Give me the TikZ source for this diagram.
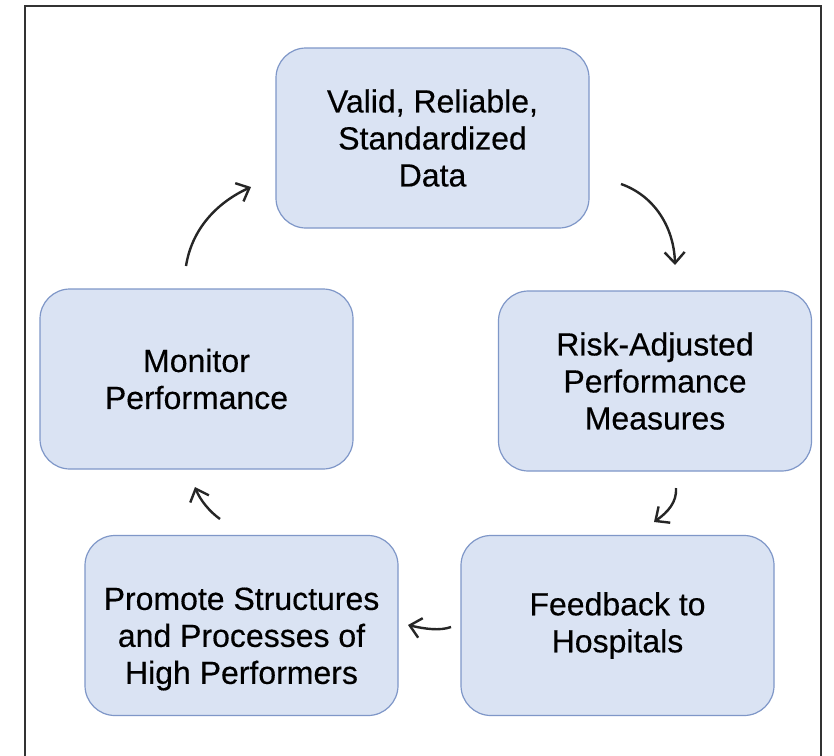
\documentclass[tikz,border=0pt]{standalone}
\usepackage{fontspec}
\setmainfont{Liberation Sans}[FakeBold=0.4]
\usetikzlibrary{arrows.meta}
\definecolor{boxfill}{HTML}{DAE3F3}
\definecolor{boxline}{HTML}{7F97C8}
\definecolor{framegray}{HTML}{333333}
\tikzset{
  stagebox/.style={draw=boxline, fill=boxfill, line width=1.2pt,
    rounded corners=30pt, minimum width=313pt, minimum height=180pt,
    align=center, font=\fontsize{32}{37}\selectfont, inner sep=0pt},
  stagetext/.style={align=center, font=\fontsize{32}{37}\selectfont, inner sep=0pt},
  cyclearrow/.style={draw=black!85, line width=2.4pt,
    -{Straight Barb[length=11pt, width=20pt, line width=2.4pt]}}
}
\begin{document}
\begin{tikzpicture}[x=1pt, y=-1pt]
  \useasboundingbox (0,0) rectangle (834,755);
  \clip (0,0) rectangle (834,755);
  \fill[white] (0,0) rectangle (834,755);
  % outer frame
  \draw[framegray, line width=2.5pt] (25,6) rectangle (821,800);

  % stages of the cycle
  \node[stagebox] (data)     at (432.5,138)   {Valid, Reliable,\\Standardized\\Data};
  \node[stagebox] (risk)     at (655,381)     {Risk-Adjusted\\Performance\\Measures};
  \node[stagebox] (feedback) at (617.5,625.5) {Feedback to\\Hospitals};
  \node[stagebox] (promote)  at (241.5,625.5) {};
  \node[stagetext] (promoteText) at (241.5,639) {Promote Structures\\and Processes of\\High Performers};
  \node[stagebox] (monitor)  at (196.5,379)   {Monitor\\Performance};

  % arrow end points between the stages
  \coordinate (dataOut)     at (621,184);
  \coordinate (riskIn)      at (675,265);
  \coordinate (riskOut)     at (676,488);
  \coordinate (feedbackIn)  at (654,522);
  \coordinate (feedbackOut) at (451,627);
  \coordinate (promoteIn)   at (408,625);
  \coordinate (promoteOut)  at (220,519);
  \coordinate (monitorIn)   at (195,487);
  \coordinate (monitorOut)  at (186,266);
  \coordinate (dataIn)      at (251,187);

  % curved arrows of the cycle
  \draw[cyclearrow] (dataOut) .. controls (655,196) and (674,228) .. (riskIn);
  \draw[cyclearrow] (riskOut) .. controls (677,502) and (668,512) .. (feedbackIn);
  \draw[cyclearrow] (feedbackOut) .. controls (440,631) and (425,629) .. (promoteIn);
  \draw[cyclearrow] (promoteOut) .. controls (210,512) and (200,500) .. (monitorIn);
  \draw[cyclearrow] (monitorOut) .. controls (192,228) and (218,202) .. (dataIn);
\end{tikzpicture}
\end{document}
